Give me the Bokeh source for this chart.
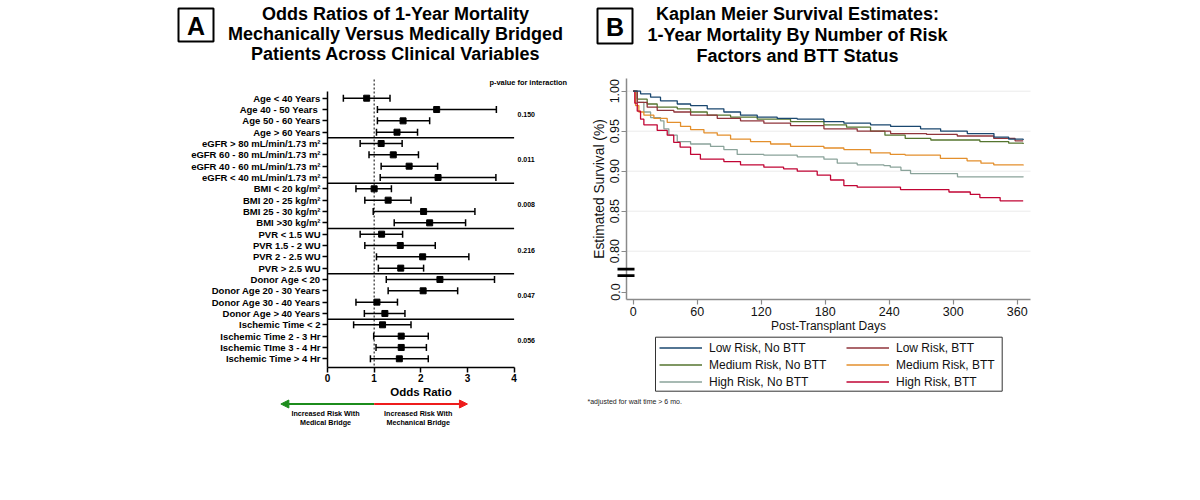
from bokeh.plotting import figure
from bokeh.layouts import row
from bokeh.models import (Range1d, FixedTicker, Whisker, TeeHead, Label, BoxAnnotation,
                          Arrow, NormalHead, Legend, LegendItem, ColumnDataSource,
                          PrintfTickFormatter)
from bokeh.embed import file_html
from bokeh.resources import INLINE
from bokeh.core.properties import value

FONT = "Liberation Sans"

# ---------------- Panel A data ----------------
or_labels = ["Age < 40 Years", "Age 40 - 50 Years\u00a0", "Age 50 - 60 Years", "Age > 60 Years",
             "eGFR > 80 mL/min/1.73 m\u00b2", "eGFR 60 - 80 mL/min/1.73 m\u00b2",
             "eGFR 40 - 60 mL/min/1.73 m\u00b2", "eGFR < 40 mL/min/1.73 m\u00b2",
             "BMI < 20 kg/m\u00b2", "BMI 20 - 25 kg/m\u00b2", "BMI 25 - 30 kg/m\u00b2", "BMI >30 kg/m\u00b2",
             "PVR < 1.5 WU", "PVR 1.5 - 2 WU", "PVR 2 - 2.5 WU", "PVR > 2.5 WU",
             "Donor Age < 20", "Donor Age 20 - 30 Years", "Donor Age 30 - 40 Years", "Donor Age > 40 Years",
             "Ischemic Time < 2", "Ischemic Time 2 - 3 Hr", "Ischemic TIme 3 - 4 Hr", "Ischemic Time > 4 Hr"]
or_est = [0.84, 2.34, 1.62, 1.49, 1.15, 1.41, 1.75, 2.37, 1.00, 1.30, 2.06, 2.19,
          1.16, 1.56, 2.04, 1.57, 2.41, 2.05, 1.06, 1.23, 1.18, 1.58, 1.58, 1.54]
or_low = [0.34, 1.07, 1.07, 1.05, 0.70, 0.89, 1.15, 1.13, 0.61, 0.80, 0.98, 1.43,
          0.70, 0.80, 1.05, 1.09, 1.26, 1.30, 0.61, 0.79, 0.56, 0.99, 1.04, 0.92]
or_high = [1.34, 3.62, 2.19, 1.93, 1.60, 1.95, 2.36, 3.61, 1.37, 1.79, 3.16, 2.96,
           1.61, 2.31, 3.03, 2.06, 3.58, 2.79, 1.50, 1.66, 1.79, 2.16, 2.12, 2.16]
p_interaction = ["0.150", "0.011", "0.008", "0.216", "0.047", "0.056"]
group_size = 4
or_ticks = [0, 1, 2, 3, 4]
or_null = 1

# ---------------- Panel B data ----------------
low_nobtt_t = [0, 6.9, 16.3, 25.6, 41.3, 53.8, 69.4, 85, 100.6, 116.3, 135, 153.8, 178.8, 197.5, 222.5, 241.3, 269.4, 288.2, 313.2, 338.2, 352, 365.6]
low_nobtt_s = [1.0, 0.9967, 0.9925, 0.988, 0.984, 0.982, 0.978, 0.974, 0.970, 0.9675, 0.966, 0.965, 0.962, 0.960, 0.958, 0.956, 0.953, 0.950, 0.947, 0.9425, 0.940, 0.939]
low_btt_t = [0, 3.8, 13.1, 22.5, 38.1, 53.8, 78.8, 100.6, 122.5, 147.5, 178.8, 210, 241.3, 275, 303.8, 338, 358, 365.6]
low_btt_s = [1.0, 0.986, 0.980, 0.976, 0.974, 0.970, 0.966, 0.963, 0.960, 0.957, 0.953, 0.950, 0.947, 0.946, 0.944, 0.941, 0.938, 0.938]
med_nobtt_t = [0, 3.8, 13.1, 22.5, 41.3, 53.8, 69.4, 91.3, 116.3, 147.5, 178.8, 200, 222.5, 236, 255, 279, 325, 352, 365.6]
med_nobtt_s = [1.0, 0.990, 0.984, 0.980, 0.978, 0.974, 0.970, 0.9675, 0.965, 0.962, 0.958, 0.955, 0.950, 0.945, 0.941, 0.939, 0.937, 0.935, 0.934]
med_btt_t = [0, 2.2, 5.3, 10, 19.4, 31.9, 44.4, 53.8, 66.3, 78.8, 91.3, 110, 128.8, 147.5, 178.8, 197.5, 222.5, 241, 255, 288, 313, 326, 338, 365.6]
med_btt_s = [1.0, 0.982, 0.974, 0.970, 0.966, 0.961, 0.956, 0.952, 0.948, 0.945, 0.940, 0.937, 0.934, 0.931, 0.929, 0.927, 0.923, 0.921, 0.920, 0.916, 0.913, 0.910, 0.908, 0.907]
high_nobtt_t = [0, 3.8, 10, 16.3, 25.6, 28.8, 33.4, 41.3, 53.8, 72.5, 85, 97.5, 122.5, 153.8, 178.8, 191.3, 210, 235, 241, 251, 260, 304, 365.6]
high_nobtt_s = [1.0, 0.986, 0.974, 0.967, 0.963, 0.953, 0.945, 0.937, 0.934, 0.931, 0.927, 0.921, 0.920, 0.918, 0.915, 0.910, 0.908, 0.907, 0.905, 0.901, 0.897, 0.893, 0.8925]
high_btt_t = [0, 1.5, 3.8, 6.9, 10, 22.5, 31.9, 38, 44, 53.8, 63, 85, 100.6, 122.5, 141, 153.8, 172.5, 185, 197.5, 210, 250.6, 296, 316, 325, 344, 365.6]
high_btt_s = [1.0, 0.985, 0.975, 0.965, 0.958, 0.951, 0.945, 0.936, 0.930, 0.921, 0.915, 0.912, 0.908, 0.905, 0.903, 0.900, 0.895, 0.889, 0.882, 0.880, 0.877, 0.874, 0.871, 0.867, 0.863, 0.863]
km_names = ["Low Risk, No BTT", "Low Risk, BTT", "Medium Risk, No BTT", "Medium Risk, BTT",
            "High Risk, No BTT", "High Risk, BTT"]
km_colors = ["#1a476f", "#90353b", "#55752f", "#e38f2c", "#8aa39a", "#c10534"]
day_ticks = [0, 60, 120, 180, 240, 300, 360]
surv_ticks = [0.80, 0.85, 0.90, 0.95, 1.00]
surv_zero_pos = 0.749   # position of the "0.0" tick below the axis break

# =============== Panel A figure (frame = whole figure, axes at fixed locations) ===============
A_W, A_H = 580, 500
A_X0, A_PXU = 327.0, 46.65        # page px of OR=0, px per OR unit
A_ROW0, A_ROWPX = 97.7, 11.33     # page px of first row, px per row
A_AXIS_Y = 367                    # page px of the x axis


def ax(px):
    return (px - A_X0) / A_PXU


def ay(py):
    return (py - A_ROW0) / A_ROWPX


rows = list(range(len(or_labels)))
pa = figure(width=A_W, height=A_H, output_backend="svg", toolbar_location=None,
            x_range=Range1d(ax(0), ax(A_W)), y_range=Range1d(ay(A_H), ay(0)),
            min_border=0)
pa.outline_line_color = None
pa.grid.visible = False

pa.yaxis.fixed_location = or_ticks[0]
pa.xaxis.fixed_location = ay(A_AXIS_Y)
pa.yaxis.ticker = FixedTicker(ticks=rows)
pa.yaxis.major_label_overrides = {i: lab for i, lab in enumerate(or_labels)}
pa.yaxis.bounds = (-0.6, ay(A_AXIS_Y))
pa.xaxis.ticker = FixedTicker(ticks=or_ticks)
pa.xaxis.bounds = (or_ticks[0], or_ticks[-1])
pa.xaxis.axis_label = "Odds Ratio"
for axis in (pa.xaxis, pa.yaxis):
    axis.axis_line_color = "black"
    axis.axis_line_width = 1.5
    axis.major_tick_line_color = "black"
    axis.major_tick_line_width = 1.5
    axis.major_tick_out = 5
    axis.major_tick_in = 0
    axis.minor_tick_line_color = None
    axis.major_label_text_font = FONT
    axis.major_label_text_font_style = "bold"
    axis.major_label_text_color = "black"
pa.yaxis.major_label_text_font_size = "9.5px"
pa.yaxis.major_label_standoff = 2
pa.xaxis.major_label_text_font_size = "10px"
pa.xaxis.major_label_standoff = 1
pa.xaxis.axis_label_text_font = FONT
pa.xaxis.axis_label_text_font_style = "bold"
pa.xaxis.axis_label_text_font_size = "11.5px"
pa.xaxis.axis_label_text_color = "black"
pa.xaxis.axis_label_standoff = 1

# reference line at OR = 1
pa.segment(x0=[or_null], x1=[or_null], y0=[ay(79)], y1=[ay(A_AXIS_Y)], line_color="black",
           line_width=1, line_dash="2 2")

seps = [g * group_size - 0.5 for g in range(1, len(p_interaction))]
pa.segment(x0=or_ticks[0], x1=or_ticks[-1], y0=seps, y1=seps, line_color="black", line_width=1.5)

src = ColumnDataSource(dict(y=rows, est=or_est, lo=or_low, hi=or_high))
pa.add_layout(Whisker(source=src, base="y", lower="lo", upper="hi", dimension="width",
                      line_color="black", line_width=1.5,
                      lower_head=TeeHead(size=7, line_color="black", line_width=1.5),
                      upper_head=TeeHead(size=7, line_color="black", line_width=1.5)))
pa.scatter(x="est", y="y", source=src, marker="square", size=6, color="black")

pv_y = [g * group_size + 1.4 for g in range(len(p_interaction))]
pa.text(x=[ax(517)] * len(p_interaction), y=pv_y, text=p_interaction,
        text_font=value(FONT), text_font_style="bold", text_font_size="7px",
        text_baseline="middle", text_align="left", text_color="black")
pa.add_layout(Label(x=ax(489), y=ay(82), text="p-value for interaction", text_font=FONT,
                    text_font_style="bold", text_font_size="7.4px", text_baseline="middle",
                    text_align="left", text_color="black"))

titleA = ["Odds Ratios of 1-Year Mortality", "Mechanically Versus Medically Bridged",
          "Patients Across Clinical Variables"]
for i, t in enumerate(titleA):
    pa.add_layout(Label(x=ax(395), y=ay(13 + 20 * i), text=t, text_font=FONT, text_font_style="bold",
                        text_font_size="18px", text_baseline="middle", text_align="center",
                        text_color="black"))
pa.add_layout(BoxAnnotation(left=ax(178), right=ax(213), top=ay(8), bottom=ay(41),
                            fill_color=None, line_color="black", line_alpha=1, line_width=2))
pa.add_layout(Label(x=ax(195.5), y=ay(25.5), text="A", text_font=FONT, text_font_style="bold",
                    text_font_size="25px", text_baseline="middle", text_align="center",
                    text_color="black"))

arrow_y = ay(403.5)
pa.add_layout(Arrow(x_start=or_null, y_start=arrow_y, x_end=or_null - 2, y_end=arrow_y,
                    line_color="#1c8c1c", line_width=1.8,
                    end=NormalHead(size=8, fill_color="#1c8c1c", line_color="#1c8c1c")))
pa.add_layout(Arrow(x_start=or_null, y_start=arrow_y, x_end=or_null + 2, y_end=arrow_y,
                    line_color="#ee1c1c", line_width=1.8,
                    end=NormalHead(size=8, fill_color="#ee1c1c", line_color="#ee1c1c")))
for cx, lines in ((ax(325), ["Increased Risk With", "Medical Bridge"]),
                  (ax(417.7), ["Increased Risk With", "Mechanical Bridge"])):
    for j, t in enumerate(lines):
        pa.add_layout(Label(x=cx, y=ay(412.7 + 9 * j), text=t, text_font=FONT, text_font_style="bold",
                            text_font_size="7.2px", text_baseline="middle", text_align="center",
                            text_color="black"))

# =============== Panel B figure ===============
B_OFF = 580
B_W, B_H = 1200 - B_OFF, 500
B_X0, B_PXD = 632.7, 1.0667       # page px of day 0, px per day
B_Y1, B_PXS = 90.7, 800.0         # page px of survival 1.00, px per unit
B_LEFT, B_RIGHT, B_TOP, B_BOT = 626, 1030, 78, 299   # page px of the plot region


def bx(px):
    return (px - B_X0) / B_PXD


def by(py):
    return 1 - (py - B_Y1) / B_PXS


pb = figure(width=B_W, height=B_H, output_backend="svg", toolbar_location=None,
            x_range=Range1d(bx(B_OFF), bx(B_OFF + B_W)), y_range=Range1d(by(B_H), by(0)),
            min_border=0)
pb.outline_line_color = None
pb.grid.visible = False

pb.xaxis.fixed_location = by(B_BOT)
pb.yaxis.fixed_location = bx(B_LEFT)
pb.xaxis.bounds = (bx(B_LEFT), bx(B_RIGHT))
pb.yaxis.bounds = (by(B_BOT), by(B_TOP))
pb.xaxis.ticker = FixedTicker(ticks=day_ticks)
pb.yaxis.ticker = FixedTicker(ticks=[surv_zero_pos] + surv_ticks)
pb.yaxis.formatter = PrintfTickFormatter(format="%.2f")
pb.yaxis.major_label_overrides = {surv_zero_pos: "0.0"}
pb.yaxis.major_label_orientation = "vertical"
pb.xaxis.axis_label = "Post-Transplant Days"
pb.yaxis.axis_label = "Estimated Survival (%)"
for axis in (pb.xaxis, pb.yaxis):
    axis.axis_line_color = "#8a8a8a"
    axis.axis_line_width = 1.5
    axis.major_tick_line_color = "#8a8a8a"
    axis.major_tick_line_width = 1.2
    axis.major_tick_out = 5
    axis.major_tick_in = 0
    axis.minor_tick_line_color = None
    axis.major_label_text_font = FONT
    axis.major_label_text_font_size = "12.5px"
    axis.major_label_text_color = "#111111"
    axis.axis_label_text_font = FONT
    axis.axis_label_text_font_style = "normal"
    axis.axis_label_text_color = "#111111"
pb.xaxis.major_label_standoff = 2
pb.xaxis.axis_label_text_font_size = "12px"
pb.xaxis.axis_label_standoff = 0
pb.yaxis.major_label_standoff = 2
pb.yaxis.axis_label_text_font_size = "13.8px"
pb.yaxis.axis_label_standoff = 1

# light horizontal grid lines across the plot region
pb.segment(x0=bx(B_LEFT), x1=bx(B_RIGHT), y0=surv_ticks, y1=surv_ticks,
           line_color="#ebebeb", line_width=1)

series = [(low_nobtt_t, low_nobtt_s), (low_btt_t, low_btt_s), (med_nobtt_t, med_nobtt_s),
          (med_btt_t, med_btt_s), (high_nobtt_t, high_nobtt_s), (high_btt_t, high_btt_s)]
draw_order = [4, 3, 5, 2, 1, 0]
renderers = [None] * len(series)
for k in draw_order:
    t, s = series[k]
    renderers[k] = pb.step(x=t, y=s, mode="after", line_color=km_colors[k], line_width=1.3)

# axis break marks
for top_px in (267.3, 273.8):
    pb.add_layout(BoxAnnotation(left=bx(617), right=bx(634), top=by(top_px), bottom=by(top_px + 2.8),
                                fill_color="black", fill_alpha=1, line_color=None))

leg_common = dict(orientation="vertical", border_line_color=None, background_fill_alpha=0,
                  padding=0, margin=0, spacing=0, glyph_width=43, glyph_height=17, label_height=17,
                  label_standoff=7, label_text_font=FONT, label_text_font_size="12px",
                  label_text_color="#111111")
leg_bottom = B_H - 390.3
leg1 = Legend(items=[LegendItem(label=km_names[k], renderers=[renderers[k]]) for k in (0, 2, 4)],
              location=(659 - B_OFF, leg_bottom), **leg_common)
leg2 = Legend(items=[LegendItem(label=km_names[k], renderers=[renderers[k]]) for k in (1, 3, 5)],
              location=(846 - B_OFF, leg_bottom), **leg_common)
pb.add_layout(leg1)
pb.add_layout(leg2)
pb.add_layout(BoxAnnotation(left=bx(655), right=bx(1001.7), top=by(336.7), bottom=by(390.7),
                            fill_color=None, line_color="#333333", line_alpha=1, line_width=1))

pb.add_layout(Label(x=bx(587), y=by(401), text="*adjusted for wait time > 6 mo.", text_font=FONT,
                    text_font_size="7px", text_baseline="middle", text_align="left",
                    text_color="#222222"))

titleB = ["Kaplan Meier Survival Estimates:", "1-Year Mortality By Number of Risk",
          "Factors and BTT Status"]
for i, t in enumerate(titleB):
    pb.add_layout(Label(x=bx(797), y=by(13 + 21 * i), text=t, text_font=FONT, text_font_style="bold",
                        text_font_size="18px", text_baseline="middle", text_align="center",
                        text_color="black"))
pb.add_layout(BoxAnnotation(left=bx(597), right=bx(632), top=by(8), bottom=by(43),
                            fill_color=None, line_color="black", line_alpha=1, line_width=2))
pb.add_layout(Label(x=bx(614.5), y=by(26), text="B", text_font=FONT, text_font_style="bold",
                    text_font_size="25px", text_baseline="middle", text_align="center",
                    text_color="black"))

layout = row(pa, pb)
open("out.html", "w").write(file_html(layout, INLINE))
